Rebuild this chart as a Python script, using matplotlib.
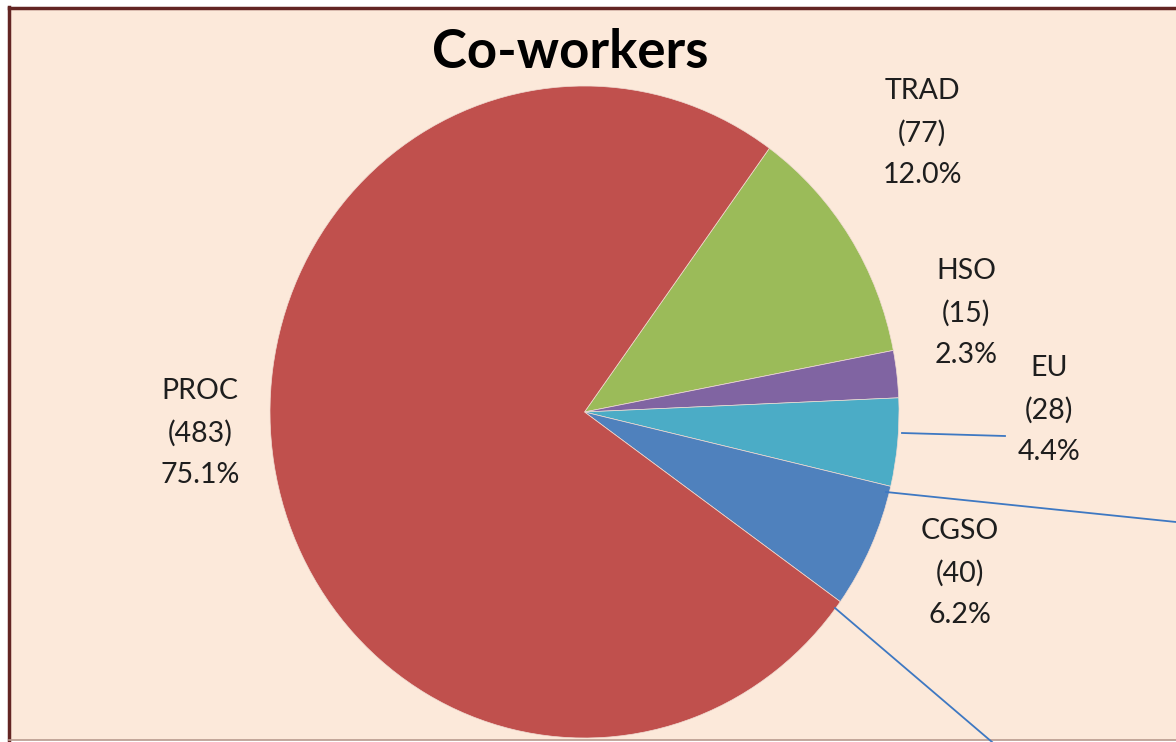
import matplotlib.pyplot as plt
from matplotlib.patches import Rectangle
from matplotlib.lines import Line2D

plt.rcParams['font.family'] = ['Lato', 'DejaVu Sans']

# data (clockwise order from the top-right)
names = ['TRAD', 'HSO', 'EU', 'CGSO', 'PROC']
counts = [77, 15, 28, 40, 483]
colors = ['#9BBB59', '#8064A2', '#4BACC6', '#4F81BD', '#C0504D']
total = sum(counts)

W, H = 1176, 742
fig = plt.figure(figsize=(W / 100, H / 100), dpi=100, facecolor='white')

def px(x, y):
    # pixel coords (origin top-left) -> figure fraction
    return x / W, 1 - y / H

# chart area background and border
fig.patches.append(Rectangle(px(9, 740), (W + 20) / W, 733 / H, transform=fig.transFigure,
                             facecolor='#FCE9DA', edgecolor='none', zorder=-10))
fig.lines.append(Line2D([px(9, 0)[0], 1.01], [px(0, 7.5)[1]] * 2, transform=fig.transFigure,
                        color='#632523', lw=2.5))
fig.lines.append(Line2D([px(9, 0)[0]] * 2, [px(0, 7)[1], px(0, 742)[1]], transform=fig.transFigure,
                        color='#632523', lw=2.5))
fig.lines.append(Line2D([px(9, 0)[0], 1.01], [px(0, 740)[1]] * 2, transform=fig.transFigure,
                        color='#B89A8E', lw=1.2))

# pie axes: centre (584.5, 412), slightly stretched vertically like the screenshot
cx, cy, rx, ry = 584.5, 412, 314.5, 326
ax = fig.add_axes([(cx - rx) / W, (H - cy - ry) / H, 2 * rx / W, 2 * ry / H])
ax.set_zorder(1)
wedges, _ = ax.pie(counts, colors=colors, startangle=54, counterclock=False,
                   wedgeprops=dict(edgecolor='#F1DDD3', linewidth=0.5))
ax.set_xlim(-1, 1)
ax.set_ylim(-1, 1)
ax.set_aspect('auto')
ax.axis('off')

# data labels
label_pos = {'TRAD': (922, 133), 'HSO': (966, 313), 'EU': (1049, 410),
             'CGSO': (960, 573), 'PROC': (200, 433)}
for n, v in zip(names, counts):
    x, y = px(*label_pos[n])
    fig.text(x, y, f"{n}\n({v})\n{v / total * 100:.1f}%", ha='center', va='center',
             fontsize=20.5, color='#1E1E1E', linespacing=1.72, zorder=5)

# leader lines
for (x0, y0), (x1, y1) in [((902, 433), (1005, 436)), ((886, 492), (1176, 522)),
                           ((835, 608), (992, 742))]:
    a, b = px(x0, y0)
    c, d = px(x1, y1)
    fig.lines.append(Line2D([a, c], [b, d], transform=fig.transFigure, color='#3E78C2',
                            lw=1.3, zorder=5))

fig.text(*px(570, 52), 'Co-workers', ha='center', va='center', fontsize=38,
         fontweight='bold', color='black', zorder=5)

fig.savefig('out.png', dpi=100, facecolor=fig.get_facecolor())
